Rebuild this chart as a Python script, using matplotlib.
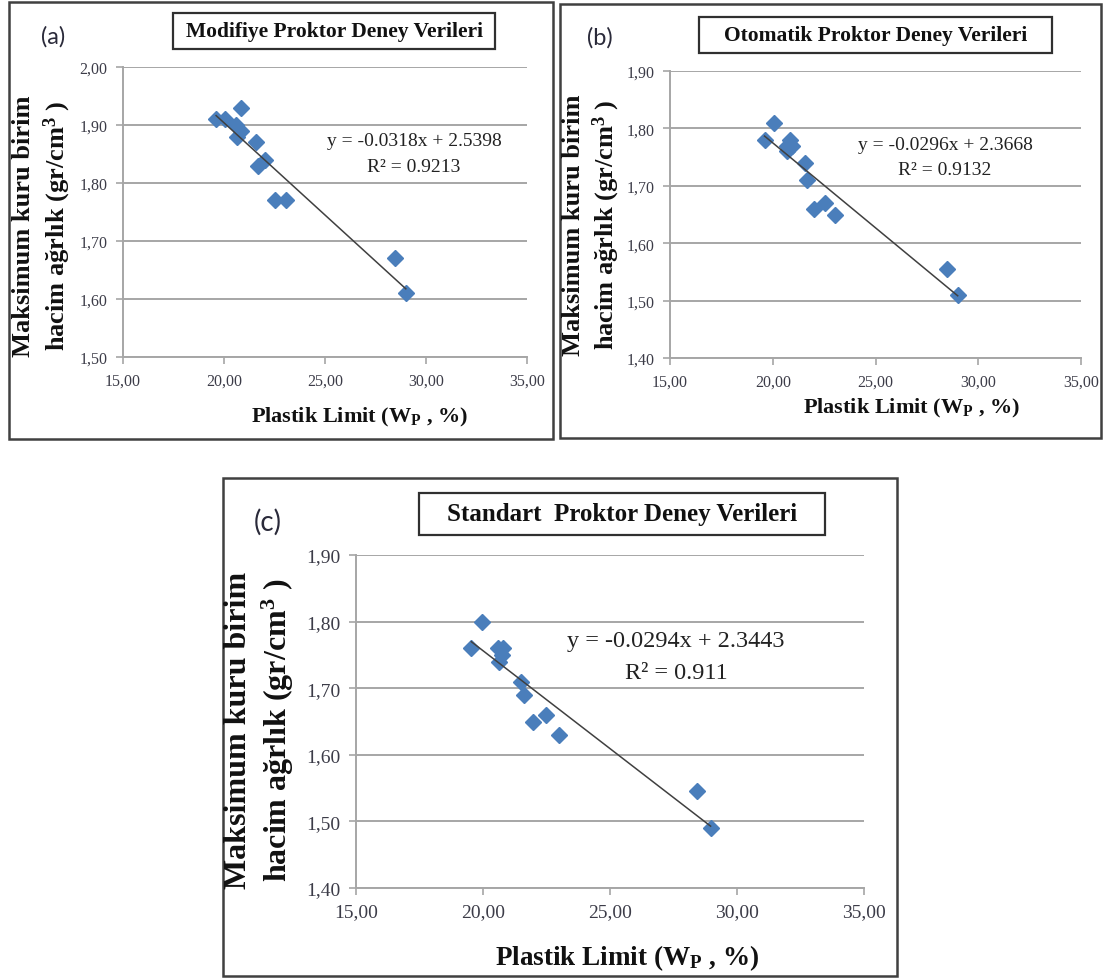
import numpy as np
import matplotlib

matplotlib.use('Agg')

import matplotlib.pyplot as plt
from matplotlib.patches import Rectangle
from matplotlib.ticker import FuncFormatter, MultipleLocator

plt.rcParams['font.family'] = 'Liberation Serif'
plt.rcParams['mathtext.fontset'] = 'custom'
plt.rcParams['mathtext.rm'] = 'Liberation Serif:bold'
plt.rcParams['mathtext.bf'] = 'Liberation Serif:bold'

# ---- data ----
# (a) Modifiye Proktor
wp_a = [19.61, 20.04, 20.83, 20.60, 20.86, 20.65, 21.57, 22.04, 21.70, 22.53, 23.05, 28.48, 29.00]
gd_a = [1.91, 1.91, 1.93, 1.90, 1.89, 1.88, 1.87, 1.84, 1.83, 1.77, 1.77, 1.67, 1.61]
fit_a = (-0.0318, 2.5398)
r2_a = '0.9213'

# (b) Otomatik Proktor
wp_b = [19.60, 20.07, 20.70, 20.82, 20.92, 20.70, 21.59, 21.67, 22.03, 22.52, 23.03, 28.48, 29.00]
gd_b = [1.78, 1.81, 1.77, 1.78, 1.77, 1.76, 1.74, 1.71, 1.66, 1.67, 1.65, 1.555, 1.51]
fit_b = (-0.0296, 2.3668)
r2_b = '0.9132'

# (c) Standart Proktor
wp_c = [19.54, 19.98, 20.58, 20.80, 20.76, 20.63, 21.50, 21.61, 21.97, 22.48, 23.00, 28.42, 28.96]
gd_c = [1.76, 1.80, 1.76, 1.76, 1.75, 1.74, 1.71, 1.69, 1.65, 1.66, 1.63, 1.545, 1.49]
fit_c = (-0.0294, 2.3443)
r2_c = '0.911'

titles = ['Modifiye Proktor Deney Verileri',
          'Otomatik Proktor Deney Verileri',
          'Standart  Proktor Deney Verileri']
tags = ['(a)', '(b)', '(c)']
ylims = [(1.50, 2.00), (1.40, 1.90), (1.40, 1.90)]

W, H = 1103, 979
GRID = '#a6a6a6'
BLUE = '#4a7ebb'
TXT = '#3c3c48'

fig = plt.figure(figsize=(W / 100, H / 100), dpi=100)


def fx(px):
    return px / W


def fy(py):
    return 1 - py / H


def comma(v, _):
    return f'{v:.2f}'.replace('.', ',')


# pixel layout for each panel: border box, axes box, title box, and text anchors
LAYOUT = [
    dict(border=(9, 3, 553, 440), axes=(123, 68, 527, 358), tbox=(173, 14, 495, 50),
         tag=(53, 37), eq=(414, 142), yl=(24, 57), ylc=226, xl=(360, 417),
         fs_tick=11.5, fs_lab=19, fs_x=16, fs_eq=14, fs_title=15.5, fs_tag=17),
    dict(border=(560, 5, 1101, 439), axes=(670, 72, 1081, 359), tbox=(699, 18, 1052, 54),
         tag=(600, 38), eq=(945, 145), yl=(573, 606), ylc=225, xl=(912, 408),
         fs_tick=11.5, fs_lab=19, fs_x=16, fs_eq=14, fs_title=15.5, fs_tag=17),
    dict(border=(223, 479, 897, 977), axes=(356, 556, 864, 889), tbox=(419, 494, 825, 536),
         tag=(268, 522), eq=(676, 642), yl=(239, 278), ylc=730, xl=(627, 958),
         fs_tick=14, fs_lab=23, fs_x=19.5, fs_eq=17.5, fs_title=18, fs_tag=20),
]

panels = [(wp_a, gd_a, fit_a, r2_a), (wp_b, gd_b, fit_b, r2_b), (wp_c, gd_c, fit_c, r2_c)]

for i, ((wp, gd, fit, r2), L) in enumerate(zip(panels, LAYOUT)):
    bx0, by0, bx1, by1 = L['border']
    fig.patches.append(Rectangle((fx(bx0), fy(by1)), fx(bx1 - bx0), (by1 - by0) / H,
                                 transform=fig.transFigure, fill=False,
                                 ec='#404040', lw=1.8))

    x0, y0, x1, y1 = L['axes']
    ax = fig.add_axes([fx(x0), fy(y1), fx(x1 - x0), (y1 - y0) / H])
    ax.set_xlim(15, 35)
    ax.set_ylim(*ylims[i])
    ax.xaxis.set_major_locator(MultipleLocator(5))
    ax.yaxis.set_major_locator(MultipleLocator(0.1))
    ax.xaxis.set_major_formatter(FuncFormatter(comma))
    ax.yaxis.set_major_formatter(FuncFormatter(comma))
    ax.grid(axis='y', color=GRID, lw=1.4)
    ax.set_axisbelow(True)
    for s in ['top', 'right']:
        ax.spines[s].set_visible(False)
    for s in ['left', 'bottom']:
        ax.spines[s].set_color(GRID)
        ax.spines[s].set_linewidth(1.4)
    ax.tick_params(direction='out', length=5, width=1.2, color=GRID,
                   labelsize=L['fs_tick'], labelcolor=TXT, pad=6)

    ax.plot(wp, gd, 'D', color=BLUE, ms=8.5, mec=BLUE, clip_on=False, zorder=3)
    xs = np.array([min(wp), max(wp)])
    ax.plot(xs, fit[0] * xs + fit[1], color='#404040', lw=1.1, zorder=4)

    # equation text
    ex, ey = L['eq']
    eq = f'y = {fit[0]:.4f}x + {fit[1]:.4f}'
    fig.text(fx(ex), fy(ey), eq, ha='center', va='center', fontsize=L['fs_eq'], color='#222222')
    fig.text(fx(ex), fy(ey + 1.8 * L['fs_eq']), f'R² = {r2}', ha='center', va='center',
             fontsize=L['fs_eq'], color='#222222')

    # title box
    tx0, ty0, tx1, ty1 = L['tbox']
    fig.patches.append(Rectangle((fx(tx0), fy(ty1)), fx(tx1 - tx0), (ty1 - ty0) / H,
                                 transform=fig.transFigure, fill=True, fc='white',
                                 ec='#303030', lw=1.6))
    fig.text(fx((tx0 + tx1) / 2), fy((ty0 + ty1) / 2), titles[i], ha='center', va='center',
             fontsize=L['fs_title'], fontweight='bold', color='#111111')

    # panel tag
    fig.text(fx(L['tag'][0]), fy(L['tag'][1]), tags[i], ha='center', va='center',
             fontsize=L['fs_tag'], family='Lato', color='#2a2a3a')

    # y label, two lines
    fig.text(fx(L['yl'][0]), fy(L['ylc']), 'Maksimum kuru birim', rotation=90,
             ha='center', va='center', fontsize=L['fs_lab'], fontweight='bold', color='#111111')
    fig.text(fx(L['yl'][1]), fy(L['ylc']), r'hacim ağrlık (gr/cm$\mathregular{^3}$ )', rotation=90,
             ha='center', va='center', fontsize=L['fs_lab'], fontweight='bold', color='#111111')

    # x label
    fig.text(fx(L['xl'][0]), fy(L['xl'][1]), r'Plastik Limit (W$\mathregular{_P}$ , %)',
             ha='center', va='center', fontsize=L['fs_x'], fontweight='bold',
             color='#111111')

fig.savefig('out.png', dpi=100)
